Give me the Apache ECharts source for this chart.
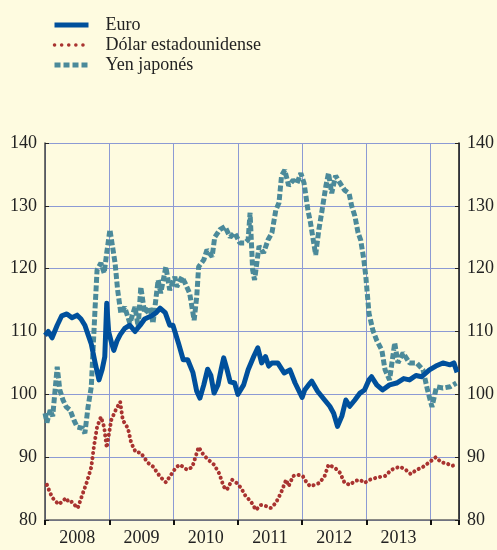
<!DOCTYPE html>
<html>
<head>
<meta charset="utf-8">
<script src="https://cdn.jsdelivr.net/npm/echarts@6/dist/echarts.min.js"></script>
<style>
  html, body { margin: 0; padding: 0; background: #fefbe0; }
</style>
</head>
<body>
<div id="main" style="width: 497px; height: 550px;"></div>
<script>
// tiempo en años (fraccion), valores del índice
var euroT = [2008.00, 2008.05, 2008.11, 2008.19, 2008.26, 2008.34, 2008.42, 2008.50, 2008.56, 2008.62,
  2008.67, 2008.72, 2008.78, 2008.84, 2008.89, 2008.93, 2008.96, 2008.99, 2009.04, 2009.07,
  2009.12, 2009.17, 2009.24, 2009.32, 2009.40, 2009.48, 2009.55, 2009.66, 2009.73, 2009.79,
  2009.87, 2009.94, 2009.99, 2010.08, 2010.15, 2010.22, 2010.30, 2010.36, 2010.41, 2010.47,
  2010.53, 2010.58, 2010.63, 2010.69, 2010.74, 2010.78, 2010.83, 2010.88, 2010.95, 2011.00,
  2011.03, 2011.09, 2011.16, 2011.25, 2011.31, 2011.37, 2011.43, 2011.48, 2011.53, 2011.62,
  2011.72, 2011.81, 2011.89, 2012.00, 2012.04, 2012.10, 2012.15, 2012.24, 2012.35, 2012.43,
  2012.49, 2012.55, 2012.62, 2012.68, 2012.74, 2012.82, 2012.90, 2012.97, 2013.04, 2013.08,
  2013.16, 2013.25, 2013.36, 2013.47, 2013.58, 2013.67, 2013.77, 2013.86, 2013.98, 2014.08,
  2014.19, 2014.30, 2014.36, 2014.41];
var euroV = [109.4, 110, 109, 111, 112.5, 112.8, 112.2, 112.6, 112, 111,
  109.5, 108, 105, 102.3, 104, 106, 114.5, 110, 108, 107,
  108.5, 109.5, 110.5, 111, 110, 111, 112, 112.5, 113, 113.7,
  113, 111, 111, 108, 105.5, 105.5, 103.5, 100.5, 99.4, 101.5,
  104, 103, 100.2, 101.5, 104, 105.8, 104, 102, 101.8, 100,
  99.7, 101.5, 103.9, 106.1, 107.4, 105, 106, 104.5, 105, 105,
  103.4, 103.9, 101.8, 99.5, 100.7, 101.5, 102.1, 100.5, 99.1, 98.1,
  97, 94.9, 96.6, 99.1, 98.1, 99.1, 100.2, 100.7, 102.3, 102.8,
  101.5, 100.7, 101.5, 101.8, 102.5, 102.3, 103, 102.8, 103.9, 104.5,
  105, 104.7, 105, 103.5];

var dolarT = [2008.03, 2008.08, 2008.12, 2008.17, 2008.22, 2008.26, 2008.33, 2008.37, 2008.42, 2008.47,
  2008.51, 2008.58, 2008.65, 2008.72, 2008.76, 2008.81, 2008.87, 2008.92, 2008.96, 2009.03,
  2009.10, 2009.17, 2009.21, 2009.29, 2009.34, 2009.41, 2009.49, 2009.60, 2009.68, 2009.79,
  2009.88, 2009.96, 2010.04, 2010.10, 2010.21, 2010.29, 2010.39, 2010.47, 2010.55, 2010.63,
  2010.71, 2010.78, 2010.83, 2010.91, 2010.98, 2011.05, 2011.12, 2011.20, 2011.28, 2011.36,
  2011.44, 2011.51, 2011.59, 2011.67, 2011.75, 2011.79, 2011.86, 2011.93, 2012.01, 2012.04,
  2012.12, 2012.20, 2012.27, 2012.35, 2012.41, 2012.51, 2012.59, 2012.66, 2012.74, 2012.82,
  2012.90, 2012.97, 2013.05, 2013.18, 2013.29, 2013.39, 2013.52, 2013.61, 2013.69, 2013.78,
  2013.86, 2013.98, 2014.08, 2014.16, 2014.25, 2014.33, 2014.39];
var dolarV = [85.6, 84.3, 83.5, 82.9, 82.5, 82.9, 83.5, 82.8, 82.9, 82.3,
  81.9, 84, 86, 88.4, 91.6, 94.8, 96.4, 94.8, 91.5, 95.9,
  97.5, 98.8, 95.9, 94.6, 92.3, 90.8, 90.7, 89.1, 88.5, 86.9,
  86, 87.2, 88.4, 88.8, 88, 88.4, 91.6, 90.3, 89.5, 88.8,
  87.4, 85.3, 84.8, 86.4, 85.9, 85.1, 83.8, 83, 81.6, 82.4,
  82.2, 81.9, 82.7, 84.3, 86.4, 85.4, 87, 87.2, 87, 86.4,
  85.4, 85.6, 85.9, 87, 88.8, 88.3, 87.5, 85.9, 85.6, 86.2,
  86.4, 85.9, 86.4, 86.8, 87, 88, 88.5, 88, 87.3, 88,
  88.3, 89.2, 90, 89.2, 89, 88.6, 88.8];

var yenT = [2008.00, 2008.03, 2008.08, 2008.12, 2008.19, 2008.23, 2008.28, 2008.33, 2008.39, 2008.45,
  2008.50, 2008.58, 2008.62, 2008.67, 2008.72, 2008.75, 2008.78, 2008.81, 2008.87, 2008.92,
  2008.96, 2009.01, 2009.04, 2009.09, 2009.13, 2009.18, 2009.24, 2009.32, 2009.40, 2009.45,
  2009.49, 2009.55, 2009.63, 2009.68, 2009.76, 2009.80, 2009.88, 2009.94, 2010.02, 2010.05,
  2010.13, 2010.18, 2010.25, 2010.32, 2010.36, 2010.39, 2010.47, 2010.52, 2010.60, 2010.64,
  2010.72, 2010.80, 2010.88, 2010.95, 2011.03, 2011.11, 2011.16, 2011.19, 2011.23, 2011.26,
  2011.33, 2011.40, 2011.47, 2011.53, 2011.59, 2011.64, 2011.68, 2011.73, 2011.79, 2011.86,
  2011.92, 2011.98, 2012.03, 2012.09, 2012.13, 2012.18, 2012.21, 2012.26, 2012.31, 2012.37,
  2012.41, 2012.46, 2012.52, 2012.59, 2012.66, 2012.73, 2012.77, 2012.82, 2012.87, 2012.91,
  2012.96, 2012.99, 2013.04, 2013.10, 2013.16, 2013.24, 2013.29, 2013.36, 2013.44, 2013.49,
  2013.57, 2013.67, 2013.78, 2013.88, 2013.95, 2014.02, 2014.09, 2014.19, 2014.30, 2014.40];
var yenV = [97, 95.5, 97.5, 96.5, 104.4, 100.7, 99.1, 98, 97.5, 95.9,
  94.8, 94.6, 93.8, 98, 101.2, 107.6, 113.9, 119.8, 120.9, 119.3,
  122.5, 126.2, 126.5, 120.9, 116.6, 112.9, 113.9, 111.3, 113.9, 110.7,
  117.1, 112.9, 113.9, 111.3, 118.2, 116.1, 120.3, 116.6, 118.7, 117.1,
  118.7, 117.7, 116.1, 111.8, 115.5, 120.3, 121.4, 123, 121.9, 125,
  126.2, 126.7, 125, 125.7, 124.1, 124.1, 124.6, 128.9, 119.8, 118.2,
  123.6, 122.5, 124.6, 125.7, 129.3, 130.5, 134.8, 135.7, 133.2, 134.1,
  133.6, 135.2, 133.6, 129.3, 127.3, 124.1, 122.2, 126.2, 129.3, 133.2,
  135.2, 132, 134.8, 133.6, 132.5, 132, 130, 128.4, 125.7, 124.6,
  121.4, 118.8, 112.9, 110.2, 108.6, 107, 103.9, 102.3, 108.2, 105,
  106.6, 105, 105, 103.9, 100.7, 98, 101.2, 101, 101.2, 101.8];

var yearLabels = ['2008', '2009', '2010', '2011', '2012', '2013'];

function zip(t, v) {
  var out = [];
  for (var i = 0; i < t.length; i++) {
    out.push([t[i], v[i]]);
  }
  return out;
}

var chartDom = document.getElementById('main');
var myChart = echarts.init(chartDom);

var font = 'Liberation Serif';
var gridColor = '#8c9ad4';
var cEuro = '#00509c';
var cDolar = '#a93330';
var cYen = '#4b8a9a';

var yAxisBase = {
  type: 'value',
  min: 80,
  max: 140,
  interval: 10,
  axisLine: { show: true, lineStyle: { color: '#444', width: 1.5 } },
  axisTick: { show: true, inside: true, length: 4, lineStyle: { color: '#222' } },
  axisLabel: { color: '#222', fontFamily: font, fontSize: 18, margin: 8 }
};

var option = {
  backgroundColor: '#fefbe0',
  animation: false,
  legend: {
    orient: 'vertical',
    left: 47,
    top: 11,
    itemGap: 2,
    itemWidth: 34,
    itemHeight: 6,
    itemStyle: { opacity: 0 },
    textStyle: { color: '#222', fontFamily: font, fontSize: 18, padding: [0, 0, 0, 12] },
    data: [
      { name: 'Euro', lineStyle: { width: 5, color: cEuro } },
      { name: 'Dólar estadounidense', lineStyle: { width: 3.5, color: cDolar, type: [0.1, 7], cap: 'round' } },
      { name: 'Yen japonés', lineStyle: { width: 5, color: cYen, type: [6, 3] } }
    ]
  },
  grid: { left: 45, right: 38, top: 143, bottom: 30 },
  xAxis: [
    {
      type: 'value',
      min: 2008,
      max: 2014.44,
      interval: 1,
      axisLine: { show: true, onZero: false, lineStyle: { color: '#666', width: 1.5 } },
      axisTick: { show: true, length: 5, lineStyle: { color: '#111', width: 2 } },
      axisLabel: { show: false },
      splitLine: { show: true, lineStyle: { color: gridColor, width: 1 } }
    },
    {
      type: 'value',
      position: 'bottom',
      min: 2008,
      max: 2014.44,
      interval: 0.5,
      axisLine: { show: false },
      axisTick: { show: false },
      splitLine: { show: false },
      axisLabel: {
        color: '#222',
        fontFamily: font,
        fontSize: 18,
        margin: 9,
        formatter: function (v) {
          var k = Math.floor(v) - 2008;
          if (Math.abs(v - Math.floor(v) - 0.5) < 0.01 && k >= 0 && k < yearLabels.length) {
            return yearLabels[k];
          }
          return '';
        }
      }
    }
  ],
  yAxis: [
    Object.assign({}, yAxisBase, {
      position: 'left',
      splitLine: { show: true, lineStyle: { color: gridColor, width: 1 } }
    }),
    Object.assign({}, yAxisBase, {
      position: 'right',
      axisLine: { show: true, lineStyle: { color: '#111', width: 1.5 } },
      splitLine: { show: false }
    })
  ],
  series: [
    {
      name: 'Euro',
      type: 'line',
      symbol: 'none',
      color: cEuro,
      lineStyle: { color: cEuro, width: 5, join: 'round' },
      z: 3,
      data: zip(euroT, euroV)
    },
    {
      name: 'Dólar estadounidense',
      type: 'line',
      symbol: 'none',
      color: cDolar,
      lineStyle: { color: cDolar, width: 4, type: [0.1, 5], cap: 'round' },
      z: 2,
      data: zip(dolarT, dolarV)
    },
    {
      name: 'Yen japonés',
      type: 'line',
      symbol: 'none',
      color: cYen,
      lineStyle: { color: cYen, width: 5, type: [6, 2.5] },
      z: 2,
      data: zip(yenT, yenV)
    }
  ]
};

option && myChart.setOption(option);
</script>
</body>
</html>
